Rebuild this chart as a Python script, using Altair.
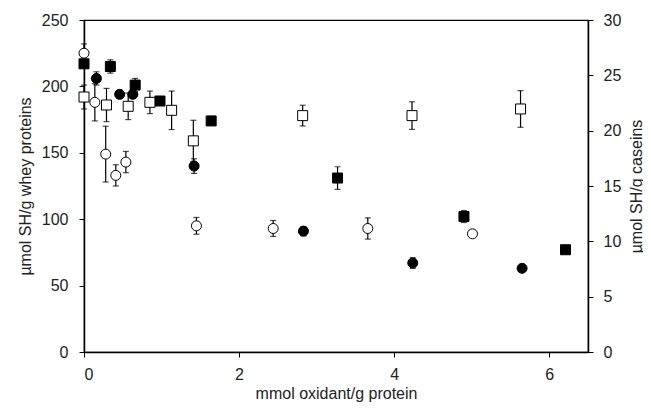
import altair as alt
import pandas as pd

# Filled squares
fs_x = [0.0, 0.34, 0.66, 0.98, 1.64, 3.27, 4.90, 6.21]
fs_y = [217, 215, 201, 189, 174, 131, 102, 77]
fs_e = [2, 5, 5, 0, 0, 8.5, 4.5, 0]
# Open squares
os_x = [0.0, 0.29, 0.57, 0.85, 1.13, 1.41, 2.82, 4.23, 5.63]
os_y = [192, 186, 185, 188, 182, 159, 178, 178, 183]
os_e = [9, 12.5, 10, 8.5, 14.5, 15.5, 7.8, 10.4, 13.8]
# Filled circles
fc_x = [0.16, 0.46, 0.63, 1.42, 2.83, 4.24, 5.65]
fc_y = [206, 194, 194, 140, 91, 67, 63]
fc_e = [5, 3, 3, 5.5, 3.5, 4, 0]
# Open circles
oc_x = [0.0, 0.14, 0.28, 0.41, 0.54, 1.45, 2.44, 3.66, 5.01]
oc_y = [225, 188, 149, 133, 143, 95, 93, 93, 89]
oc_e = [7, 14, 21, 8, 8, 6.3, 6, 8, 0]

rows = []
for name, xs, ys, es in [("fs", fs_x, fs_y, fs_e), ("os", os_x, os_y, os_e),
                         ("fc", fc_x, fc_y, fc_e), ("oc", oc_x, oc_y, oc_e)]:
    for x, y, e in zip(xs, ys, es):
        rows.append({"s": name, "x": x, "y": y, "lo": y - e, "hi": y + e, "e": e})
df = pd.DataFrame(rows)
df_err = df[df["e"] > 0]

right_ticks = pd.DataFrame({"v": [0, 30]})

FONT = "Liberation Sans"
xscale = alt.Scale(domain=[0, 6.5], nice=False, zero=False)
yscale = alt.Scale(domain=[0, 250], nice=False)

xaxis = alt.Axis(values=[0, 2, 4, 6], format="d", grid=False, title="mmol oxidant/g protein",
                 tickSize=5, labelPadding=9, titleBaseline="alphabetic", titleY=46)
yaxis = alt.Axis(values=[0, 50, 100, 150, 200, 250], grid=False, title="µmol SH/g whey proteins",
                 tickSize=5, labelPadding=11, titleAngle=270, titleBaseline="alphabetic", titleX=-54)

bars = alt.Chart(df_err).mark_rule(color="black", strokeWidth=1.2).encode(
    x=alt.X("x:Q", scale=xscale, axis=xaxis),
    y=alt.Y("lo:Q", scale=yscale, axis=yaxis),
    y2="hi:Q",
)
caps_hi = alt.Chart(df_err).mark_tick(color="black", orient="horizontal", size=6, thickness=1.2).encode(
    x=alt.X("x:Q", scale=xscale), y=alt.Y("hi:Q", scale=yscale))
caps_lo = alt.Chart(df_err).mark_tick(color="black", orient="horizontal", size=6, thickness=1.2).encode(
    x=alt.X("x:Q", scale=xscale), y=alt.Y("lo:Q", scale=yscale))

shape_scale = alt.Scale(domain=["fs", "os", "fc", "oc"], range=["square", "square", "circle", "circle"])
fill_scale = alt.Scale(domain=["fs", "os", "fc", "oc"], range=["black", "white", "black", "white"])
size_scale = alt.Scale(domain=["fs", "os", "fc", "oc"], range=[100, 100, 90, 80])

points = alt.Chart(df).mark_point(filled=True, stroke="black", strokeWidth=1, opacity=1).encode(
    x=alt.X("x:Q", scale=xscale),
    y=alt.Y("y:Q", scale=yscale),
    shape=alt.Shape("s:N", scale=shape_scale, legend=None),
    fill=alt.Fill("s:N", scale=fill_scale, legend=None),
    size=alt.Size("s:N", scale=size_scale, legend=None),
)

left = alt.layer(bars, caps_hi, caps_lo, points)

right = alt.Chart(right_ticks).mark_point(opacity=0).encode(
    x=alt.value(0),
    y=alt.Y("v:Q", scale=alt.Scale(domain=[0, 30], nice=False),
            axis=alt.Axis(orient="right", values=[0, 5, 10, 15, 20, 25, 30], grid=False,
                          title="µmol SH/g caseins", titleAngle=270, titleBaseline="alphabetic",
                          titleX=53, tickSize=5, labelPadding=10)),
)

chart = alt.layer(left, right).resolve_scale(y="independent").properties(
    width=504, height=332,
    autosize=alt.AutoSizeParams(type="none"),
    padding={"left": 76, "top": 12, "right": 55, "bottom": 51},
).configure_view(stroke="black", strokeWidth=1.2).configure_axis(
    domainColor="black", domainWidth=1.5, tickColor="black", tickWidth=1,
    labelFont=FONT, titleFont=FONT, labelFontSize=16, titleFontSize=16,
    labelColor="#222", titleColor="#222", titleFontWeight="normal",
)

chart.save("out.html", embed_options={"renderer": "svg", "actions": False})
